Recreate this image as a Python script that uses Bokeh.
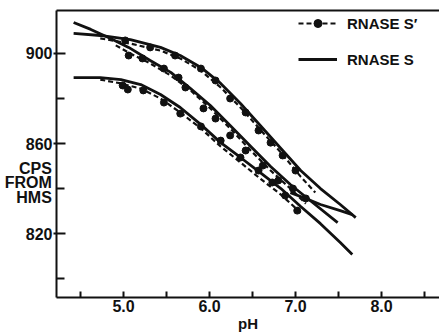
from bokeh.plotting import figure
from bokeh.models import (FixedTicker, LinearAxis, Legend, LegendItem,
                          PrintfTickFormatter, Range1d)
from bokeh.embed import file_html
from bokeh.resources import INLINE

# ---------------- data (pH, counts per second from HMS) ----------------
# upper group
top_s_ph = [4.42, 4.73, 5.08, 5.43, 5.66, 5.90, 6.13, 6.36, 6.59, 6.83, 7.06, 7.29, 7.52, 7.70]
top_s_cps = [908.9, 908.0, 906.2, 902.7, 899.1, 893.8, 886.7, 877.8, 868.0, 857.8, 848.0, 840.0, 832.9, 827.1]
top_sp_ph = [4.73, 5.08, 5.43, 5.66, 5.90, 6.13, 6.36, 6.59, 6.83, 7.06, 7.23]
top_sp_cps = [906.7, 904.4, 901.3, 897.8, 892.4, 884.9, 876.0, 866.2, 856.0, 845.3, 838.2]
top_pts_ph = [5.02, 5.31, 5.60, 5.90, 6.07, 6.24, 6.42, 6.57, 6.71, 6.85, 7.00]
top_pts_cps = [905.8, 902.7, 899.1, 893.3, 888.0, 880.0, 873.8, 865.8, 860.4, 854.7, 848.0]

# middle group
mid_s_ph = [4.42, 4.62, 4.85, 5.06, 5.31, 5.55, 5.78, 6.01, 6.24, 6.48, 6.71, 6.94, 7.17, 7.49]
mid_s_cps = [913.8, 910.7, 906.7, 902.7, 896.9, 891.6, 884.4, 876.9, 868.0, 858.7, 849.8, 841.8, 834.7, 824.9]
mid_sp_ph = [4.91, 5.08, 5.31, 5.55, 5.78, 6.01, 6.24, 6.48, 6.71, 6.94, 7.12]
mid_sp_cps = [903.6, 900.0, 895.6, 890.2, 883.6, 875.6, 866.7, 856.9, 848.0, 840.0, 833.3]
mid_pts_ph = [5.06, 5.22, 5.47, 5.64, 5.72, 5.93, 6.07, 6.24, 6.42, 6.62, 6.80, 6.97, 7.12]
mid_pts_cps = [899.1, 897.8, 893.3, 889.3, 884.9, 875.6, 871.1, 863.6, 856.9, 850.2, 843.6, 840.0, 835.6]
cross_s_ph = [6.94, 7.12, 7.29, 7.52, 7.66]
cross_s_cps = [838.2, 835.6, 832.9, 830.2, 828.4]

# lower group
bot_s_ph = [4.42, 4.73, 4.97, 5.20, 5.43, 5.66, 5.90, 6.13, 6.36, 6.59, 6.83, 7.06, 7.29, 7.52, 7.66]
bot_s_cps = [889.3, 889.3, 888.4, 886.2, 881.8, 876.0, 868.4, 860.4, 853.8, 847.1, 840.0, 832.0, 824.4, 816.0, 810.7]
bot_sp_ph = [4.73, 4.97, 5.20, 5.43, 5.66, 5.90, 6.13, 6.36, 6.59, 6.83, 7.06]
bot_sp_cps = [888.4, 886.7, 884.4, 880.0, 873.8, 866.7, 858.7, 851.6, 844.4, 837.3, 829.3]
bot_pts_ph = [4.99, 5.05, 5.23, 5.47, 5.66, 5.90, 6.13, 6.36, 6.57, 6.73, 6.88, 7.02]
bot_pts_cps = [885.8, 884.0, 883.6, 878.2, 873.3, 867.6, 861.3, 853.8, 848.0, 842.7, 836.9, 830.2]

x_major = [5.0, 6.0, 7.0, 8.0]
x_minor = [4.5, 5.5, 6.5, 7.5, 8.5]
y_major = [820, 860, 900]
y_minor = [800, 840, 880]
y_title_lines = ["CPS", "FROM", "HMS"]
x_title = "pH"
legend_labels = ["RNASE S\u2032", "RNASE S"]

FONT = "Liberation Sans"
INK = "#111111"

p = figure(width=439, height=334, output_backend="svg", toolbar_location=None,
           x_range=Range1d(4.221, 8.674), y_range=Range1d(791.6, 919.1),
           min_border_left=56, min_border_right=0, min_border_top=10, min_border_bottom=37,
           x_axis_type=None, y_axis_type=None, background_fill_color="white",
           border_fill_color="white")
p.outline_line_color = None
p.xgrid.visible = False
p.ygrid.visible = False

# axes
xa = LinearAxis(ticker=FixedTicker(ticks=x_major, minor_ticks=x_minor),
                formatter=PrintfTickFormatter(format="%.1f"))
xa.axis_line_width = 2
xa.axis_line_color = INK
xa.major_tick_in = 6
xa.major_tick_out = 0
xa.minor_tick_in = 6
xa.minor_tick_out = 0
xa.major_tick_line_width = 2
xa.minor_tick_line_width = 2
xa.major_tick_line_color = INK
xa.minor_tick_line_color = INK
xa.major_label_text_font = FONT
xa.major_label_text_font_style = "bold"
xa.major_label_text_font_size = "16px"
xa.major_label_text_color = INK
xa.major_label_standoff = 2
xa.axis_label = x_title
xa.axis_label_standoff = 0
xa.axis_label_text_font = FONT
xa.axis_label_text_font_style = "bold"
xa.axis_label_text_font_size = "15px"
xa.axis_label_text_color = INK
p.add_layout(xa, "below")

ya = LinearAxis(ticker=FixedTicker(ticks=y_major, minor_ticks=y_minor))
ya.axis_line_width = 2
ya.axis_line_color = INK
ya.major_tick_in = 9
ya.major_tick_out = 3
ya.minor_tick_in = 8
ya.minor_tick_out = 0
ya.major_tick_line_width = 2
ya.minor_tick_line_width = 2
ya.major_tick_line_color = INK
ya.minor_tick_line_color = INK
ya.major_label_text_font = FONT
ya.major_label_text_font_style = "bold"
ya.major_label_text_font_size = "16px"
ya.major_label_text_color = INK
ya.major_label_standoff = 1
ya.axis_label = "\n\n\n\n" + "\n".join(y_title_lines)
ya.axis_label_orientation = "horizontal"
ya.axis_label_standoff = -29
ya.axis_label_text_font = FONT
ya.axis_label_text_font_style = "bold"
ya.axis_label_text_font_size = "16px"
ya.axis_label_text_line_height = 0.85
ya.axis_label_text_color = INK
ya.axis_label_text_align = "center"
p.add_layout(ya, "left")

ta = LinearAxis(ticker=FixedTicker(ticks=[]))
ta.axis_line_width = 2
ta.axis_line_color = INK
ta.major_tick_line_color = None
ta.minor_tick_line_color = None
ta.major_label_text_font_size = "0px"
ta.major_label_standoff = 0
p.add_layout(ta, "above")

# curves
solid_kw = dict(line_color=INK, line_width=2.8)
dash_kw = dict(line_color=INK, line_width=2.2, line_dash="5 3")
dot_kw = dict(size=7, fill_color=INK, line_color=INK)

s_r = p.line(top_s_ph, top_s_cps, **solid_kw)
p.line(mid_s_ph, mid_s_cps, **solid_kw)
p.line(cross_s_ph, cross_s_cps, **solid_kw)
p.line(bot_s_ph, bot_s_cps, **solid_kw)

sp_r = p.line(top_sp_ph, top_sp_cps, **dash_kw)
p.line(mid_sp_ph, mid_sp_cps, **dash_kw)
p.line(bot_sp_ph, bot_sp_cps, **dash_kw)

pt_r = p.scatter(top_pts_ph, top_pts_cps, **dot_kw)
p.scatter(mid_pts_ph, mid_pts_cps, **dot_kw)
p.scatter(bot_pts_ph, bot_pts_cps, **dot_kw)

legend = Legend(items=[LegendItem(label=legend_labels[0], renderers=[sp_r, pt_r]),
                       LegendItem(label=legend_labels[1], renderers=[s_r])],
                location=(242, 228), padding=0, margin=0, spacing=16,
                glyph_width=39, glyph_height=20, label_height=20, label_standoff=10,
                border_line_color=None, background_fill_alpha=0,
                label_text_font=FONT, label_text_font_style="bold",
                label_text_font_size="15px", label_text_color=INK)
p.add_layout(legend)

open("out.html", "w").write(file_html(p, INLINE))
